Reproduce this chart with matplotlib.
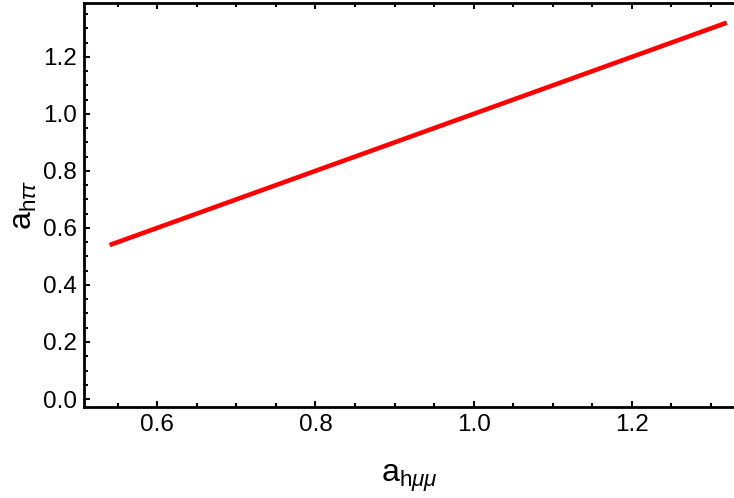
import matplotlib
matplotlib.use("Agg")
import matplotlib.pyplot as plt
from matplotlib.ticker import MultipleLocator

# line a_htautau vs a_hmumu (straight line, equal couplings)
a_hmumu = [0.54, 1.32]
a_htautau = [0.54, 1.32]

x_major = [0.6, 0.8, 1.0, 1.2]
y_major = [0.0, 0.2, 0.4, 0.6, 0.8, 1.0, 1.2]

plt.rcParams['font.family'] = ['Liberation Sans', 'DejaVu Sans']
plt.rcParams['mathtext.fontset'] = 'custom'
plt.rcParams['mathtext.rm'] = 'Liberation Sans'
plt.rcParams['mathtext.it'] = 'Liberation Sans:italic'

fig = plt.figure(figsize=(7.34, 4.98), dpi=100)
ax = fig.add_axes([84 / 734, 1 - 407 / 498, 1 - 84 / 734, 404 / 498])

ax.plot(a_hmumu, a_htautau, color='red', linewidth=3.3, solid_capstyle='butt')

ax.set_xlim(0.5076, 1.329)
ax.set_ylim(-0.028, 1.389)
ax.set_xticks(x_major)
ax.set_yticks(y_major)
ax.set_xticklabels(['%.1f' % v for v in x_major])
ax.set_yticklabels(['%.1f' % v for v in y_major])
ax.xaxis.set_minor_locator(MultipleLocator(0.05))
ax.yaxis.set_minor_locator(MultipleLocator(0.05))

ax.spines['right'].set_visible(False)
for s in ['left', 'bottom', 'top']:
    ax.spines[s].set_linewidth(2)

ax.tick_params(which='both', direction='in', top=True, right=False,
               labelsize=17.5, width=1.5, pad=5)
ax.tick_params(which='major', length=4.5)
ax.tick_params(which='minor', length=3)

ax.set_xlabel(r'$\mathrm{a}_{\mathrm{h}\mathit{μμ}}$', fontsize=23, labelpad=19)
ax.set_ylabel(r'$\mathrm{a}_{\mathrm{h}\mathit{ττ}}$', fontsize=23, labelpad=3)

fig.savefig('out.png', dpi=100)
